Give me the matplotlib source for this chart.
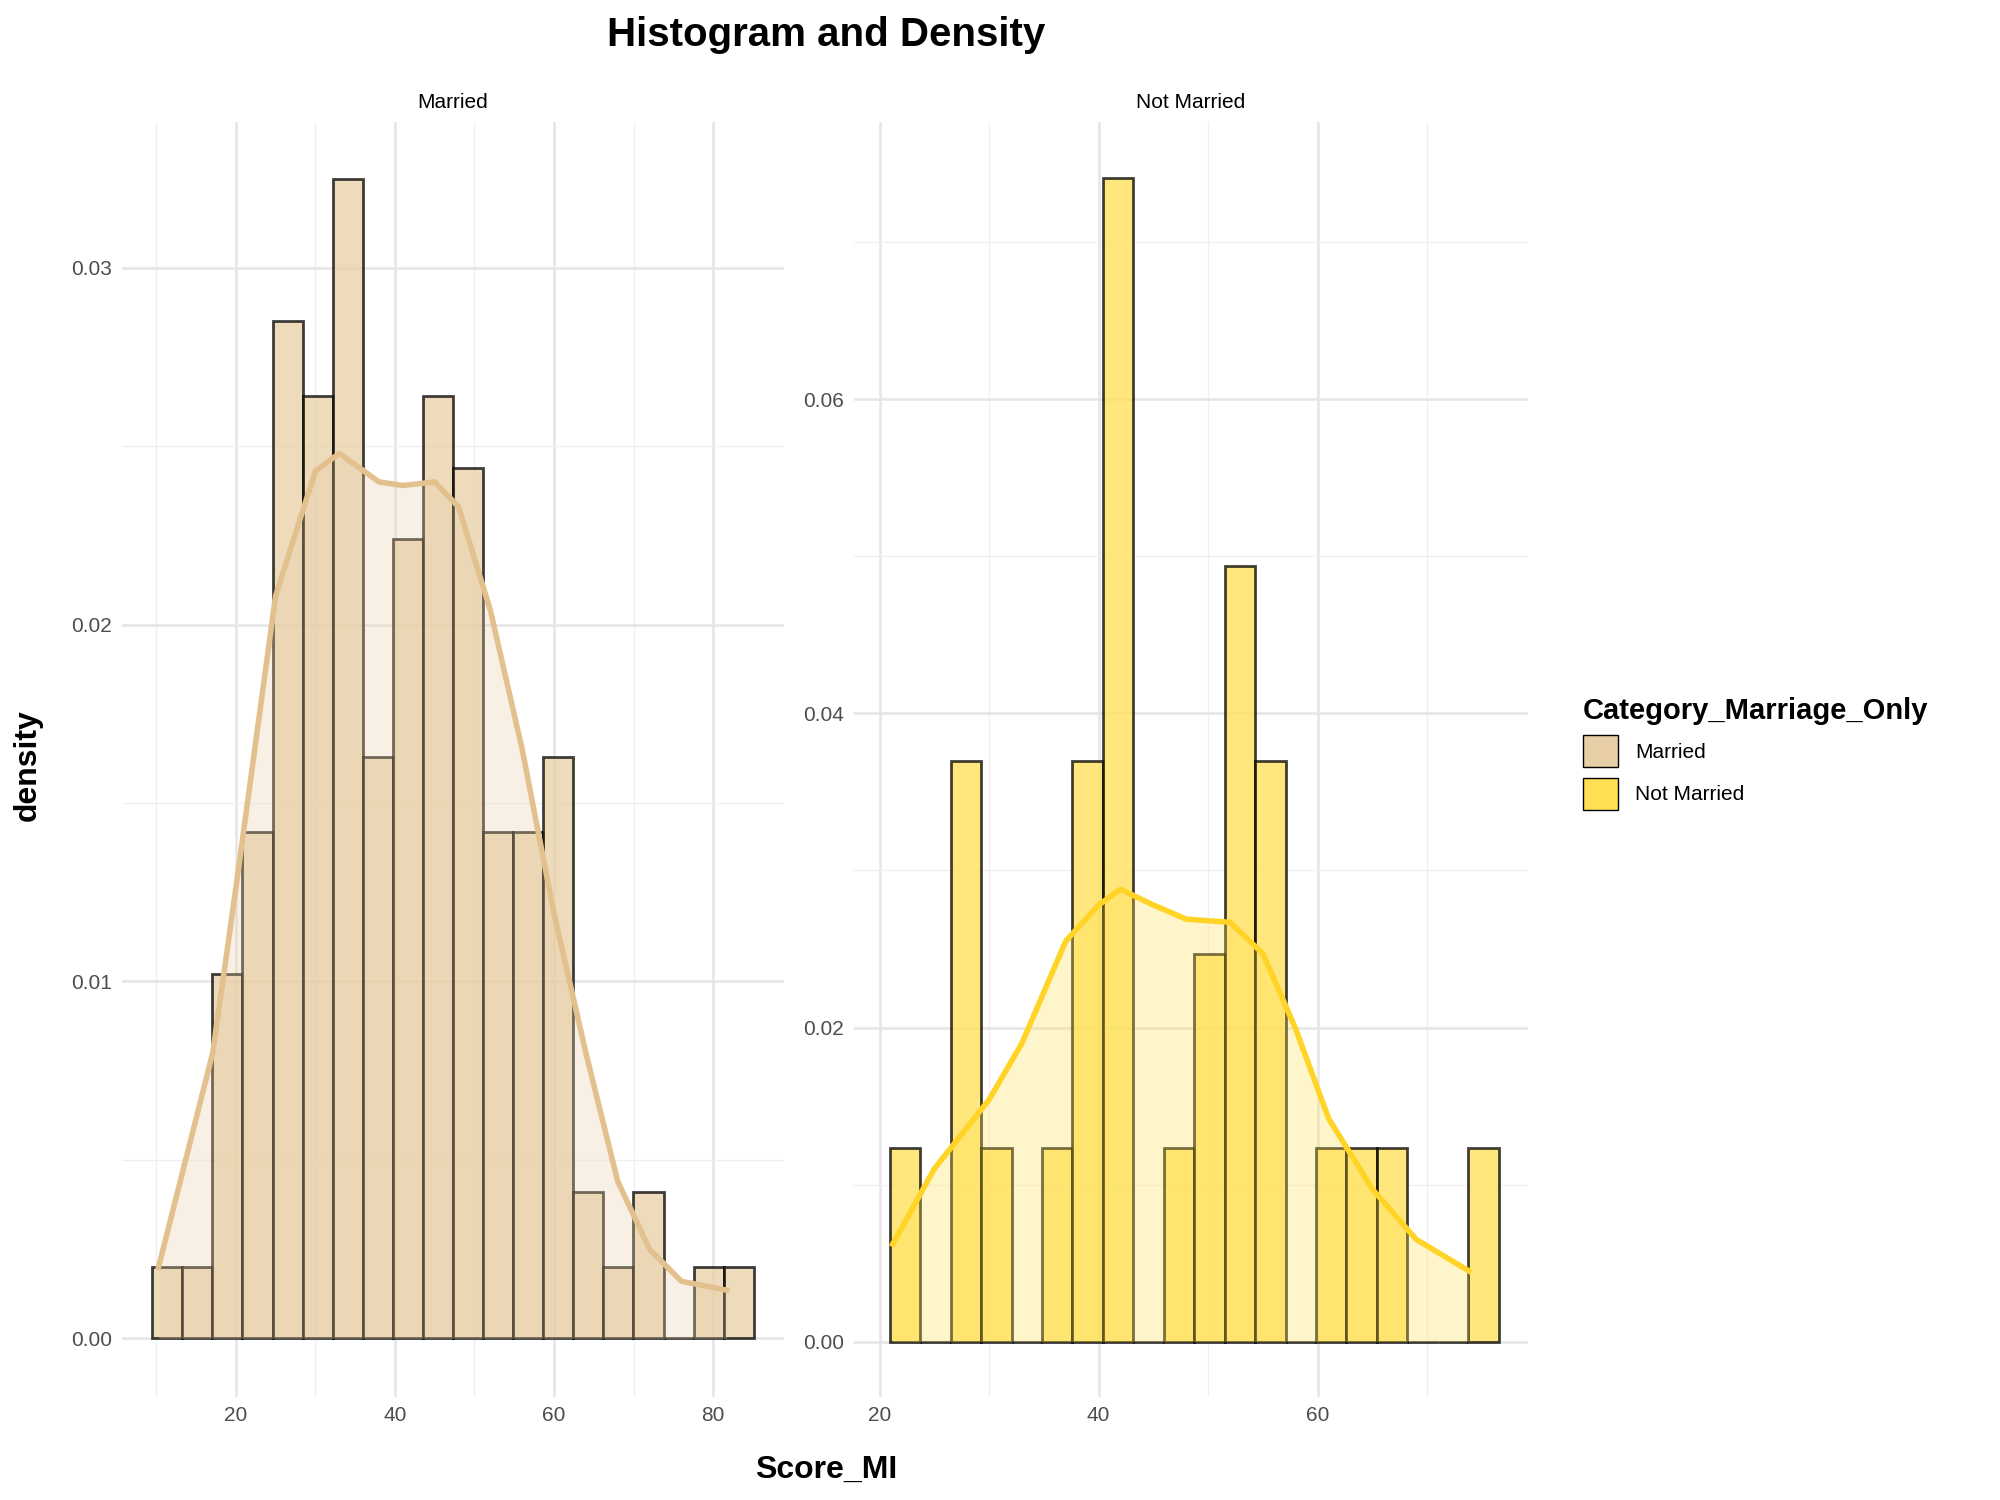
import numpy as np
import matplotlib.pyplot as plt
from matplotlib.patches import Patch

plt.rcParams['font.family'] = ['Liberation Sans', 'DejaVu Sans']

# Married histogram (20 bins)
m_start, m_width = 9.5, 3.78
m_heights = [0.0020, 0.0020, 0.0102, 0.0142, 0.0285, 0.0264, 0.0325, 0.0163, 0.0224, 0.0264,
             0.0244, 0.0142, 0.0142, 0.0163, 0.0041, 0.0020, 0.0041, 0.0, 0.0020, 0.0020]
m_dens_x = [10.3, 17.1, 20, 25, 30, 33, 38, 41, 45, 48, 52, 56, 60, 64, 68, 72, 76, 81.7]
m_dens_y = [0.0020, 0.0080, 0.0126, 0.0208, 0.0243, 0.0248, 0.0240, 0.0239, 0.0240, 0.0233,
            0.0204, 0.0165, 0.0119, 0.0080, 0.0044, 0.0025, 0.0016, 0.00135]

# Not Married histogram (20 bins)
n_start, n_width = 20.93, 2.78
n_heights = [0.0123, 0.0, 0.0370, 0.0123, 0.0, 0.0123, 0.0370, 0.0741, 0.0, 0.0123,
             0.0247, 0.0494, 0.0370, 0.0, 0.0123, 0.0123, 0.0123, 0.0, 0.0, 0.0123]
n_dens_x = [21.2, 25, 30, 33, 37, 40, 42, 45, 48, 52, 55, 58, 61, 65, 69, 73.8]
n_dens_y = [0.0062, 0.0110, 0.0154, 0.0190, 0.0255, 0.0278, 0.0288, 0.0278, 0.0269, 0.0267,
            0.0247, 0.0199, 0.0142, 0.0097, 0.0065, 0.0045]

c_m_fill, c_m_line = '#E8CFA6', '#E3C18F'
c_n_fill, c_n_line = '#FFE052', '#FFD426'

fig = plt.figure(figsize=(20, 15), dpi=100)
ax1 = fig.add_axes([0.061, 0.069, 0.331, 0.850])
ax2 = fig.add_axes([0.427, 0.069, 0.337, 0.850])

def panel(ax, start, width, heights, dx, dy, fill, line, title):
    lefts = start + width * np.arange(len(heights))
    ax.bar(lefts, heights, width=width, align='edge', color=fill, alpha=0.75,
           edgecolor='black', linewidth=2)
    ax.fill_between(dx, dy, color=fill, alpha=0.3, linewidth=0)
    ax.plot(dx, dy, color=line, linewidth=4, solid_joinstyle='round')
    ax.set_title(title, fontsize=15, pad=10)
    ax.set_facecolor('white')
    for s in ax.spines.values():
        s.set_visible(False)
    ax.grid(True, which='major', color='#E5E5E5', linewidth=1.8)
    ax.grid(True, which='minor', color='#F0F0F0', linewidth=1)
    ax.set_axisbelow(True)
    ax.tick_params(length=0, labelsize=15, colors='#4D4D4D', pad=7)
    ax.tick_params(which='minor', length=0)

panel(ax1, m_start, m_width, m_heights, m_dens_x, m_dens_y, c_m_fill, c_m_line, 'Married')
ax1.set_xlim(5.7, 88.9)
ax1.set_ylim(-0.00163, 0.0341)
ax1.set_xticks([20, 40, 60, 80])
ax1.set_xticks([10, 30, 50, 70], minor=True)
ax1.set_yticks([0, 0.01, 0.02, 0.03])
ax1.set_yticklabels(['0.00', '0.01', '0.02', '0.03'])
ax1.set_yticks([0.005, 0.015, 0.025], minor=True)

panel(ax2, n_start, n_width, n_heights, n_dens_x, n_dens_y, c_n_fill, c_n_line, 'Not Married')
ax2.set_xlim(17.67, 79.2)
ax2.set_ylim(-0.0035, 0.0777)
ax2.set_xticks([20, 40, 60])
ax2.set_xticks([30, 50, 70], minor=True)
ax2.set_yticks([0, 0.02, 0.04, 0.06])
ax2.set_yticklabels(['0.00', '0.02', '0.04', '0.06'])
ax2.set_yticks([0.01, 0.03, 0.05, 0.07], minor=True)

fig.text(0.413, 0.977, 'Histogram and Density', ha='center', va='center',
         fontsize=29, fontweight='bold')
fig.text(0.413, 0.020, 'Score_MI', ha='center', va='center', fontsize=23, fontweight='bold')
fig.text(0.014, 0.49, 'density', ha='center', va='center', rotation=90,
         fontsize=23, fontweight='bold')

handles = [Patch(facecolor=c_m_fill, edgecolor='black', label='Married'),
           Patch(facecolor=c_n_fill, edgecolor='black', label='Not Married')]
leg = fig.legend(handles=handles, loc='upper left', bbox_to_anchor=(0.782, 0.548),
                 frameon=False, fontsize=15, title='Category_Marriage_Only',
                 handlelength=1.7, handleheight=2.0, labelspacing=0.5)
leg.get_title().set_fontweight('bold')
leg.get_title().set_fontsize(21)
leg._legend_box.align = 'left'

fig.savefig('out.png', dpi=100, facecolor='white')
